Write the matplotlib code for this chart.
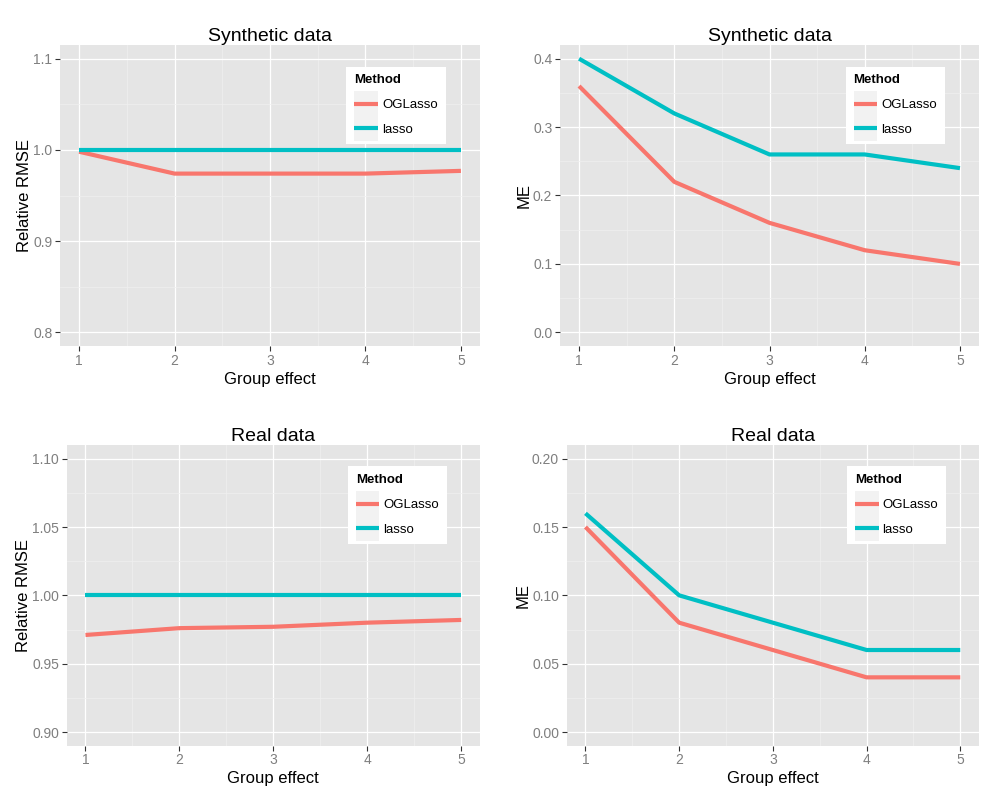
import matplotlib
matplotlib.use("Agg")
import matplotlib.pyplot as plt
from matplotlib.legend_handler import HandlerLine2D
from matplotlib.patches import Rectangle
from matplotlib.ticker import FormatStrFormatter, MultipleLocator

plt.rcParams['font.family'] = ['Liberation Sans', 'DejaVu Sans']

group_effect = [1, 2, 3, 4, 5]

# synthetic data
syn_rmse_oglasso = [0.998, 0.974, 0.974, 0.974, 0.977]
syn_rmse_lasso = [1.0, 1.0, 1.0, 1.0, 1.0]
syn_me_oglasso = [0.36, 0.22, 0.16, 0.12, 0.10]
syn_me_lasso = [0.40, 0.32, 0.26, 0.26, 0.24]

# real data
real_rmse_oglasso = [0.971, 0.976, 0.977, 0.980, 0.982]
real_rmse_lasso = [1.0, 1.0, 1.0, 1.0, 1.0]
real_me_oglasso = [0.15, 0.08, 0.06, 0.04, 0.04]
real_me_lasso = [0.16, 0.10, 0.08, 0.06, 0.06]

method_names = ["OGLasso", "lasso"]
colors = ["#F8766D", "#00BFC4"]


class KeyHandler(HandlerLine2D):
    # grey key box behind the line, ggplot style
    def create_artists(self, legend, orig_handle, xdescent, ydescent, width, height, fontsize, trans):
        artists = super().create_artists(legend, orig_handle, xdescent, ydescent, width, height, fontsize, trans)
        pad_y = 5.5
        box = Rectangle((-xdescent, -ydescent - pad_y), width, height + 2 * pad_y,
                        facecolor="#F2F2F2", edgecolor="none", transform=trans, zorder=0)
        return [box] + artists


fig = plt.figure(figsize=(10, 8), dpi=100)

panels = [
    # rect, title, ylabel, ylim, ystep, fmt, series
    ([0.06, 0.5675, 0.42, 0.37625], "Synthetic data", "Relative RMSE", (0.8, 1.1), 0.1, "%.1f",
     [syn_rmse_oglasso, syn_rmse_lasso]),
    ([0.56, 0.5675, 0.419, 0.37625], "Synthetic data", "ME", (0.0, 0.4), 0.1, "%.1f",
     [syn_me_oglasso, syn_me_lasso]),
    ([0.0667, 0.0679, 0.4133, 0.37585], "Real data", "Relative RMSE", (0.9, 1.1), 0.05, "%.2f",
     [real_rmse_oglasso, real_rmse_lasso]),
    ([0.5667, 0.0679, 0.4123, 0.37585], "Real data", "ME", (0.0, 0.2), 0.05, "%.2f",
     [real_me_oglasso, real_me_lasso]),
]

for rect, title, ylabel, ylim, ystep, fmt, series in panels:
    ax = fig.add_axes(rect)
    ax.set_facecolor("#E5E5E5")
    for s in ax.spines.values():
        s.set_visible(False)

    for vals, name, col in zip(series, method_names, colors):
        ax.plot(group_effect, vals, color=col, lw=3, label=name, solid_capstyle="butt")

    span = ylim[1] - ylim[0]
    ax.set_ylim(ylim[0] - 0.05 * span, ylim[1] + 0.05 * span)
    ax.set_xlim(0.8, 5.2)
    ax.xaxis.set_major_locator(MultipleLocator(1))
    ax.xaxis.set_minor_locator(MultipleLocator(0.5))
    ax.yaxis.set_major_locator(MultipleLocator(ystep))
    ax.yaxis.set_minor_locator(MultipleLocator(ystep / 2))
    ax.yaxis.set_major_formatter(FormatStrFormatter(fmt))
    ax.grid(which="major", color="white", lw=0.9)
    ax.grid(which="minor", color="#F0F0F0", lw=0.5)
    ax.set_axisbelow(True)
    ax.tick_params(which="major", length=3.5, width=0.8, color="#333333",
                   labelcolor="#7F7F7F", labelsize=10, pad=2)
    ax.tick_params(which="minor", length=0)

    ax.set_title(title, fontsize=14, pad=3)
    ax.set_xlabel("Group effect", fontsize=12, labelpad=3)
    ax.set_ylabel(ylabel, fontsize=12, labelpad=1)

    leg = ax.legend(title="Method", loc="center", bbox_to_anchor=(0.8, 0.8),
                    fontsize=9.5, handlelength=1.8, handletextpad=0.3, labelspacing=0.95,
                    borderpad=0.6, borderaxespad=0, fancybox=False, frameon=True,
                    handler_map={plt.Line2D: KeyHandler()})
    leg.get_frame().set_facecolor("white")
    leg.get_frame().set_edgecolor("none")
    leg.get_frame().set_alpha(1)
    leg.get_title().set_fontweight("bold")
    leg.get_title().set_fontsize(9.5)
    leg._legend_box.align = "left"

plt.savefig("out.png")
